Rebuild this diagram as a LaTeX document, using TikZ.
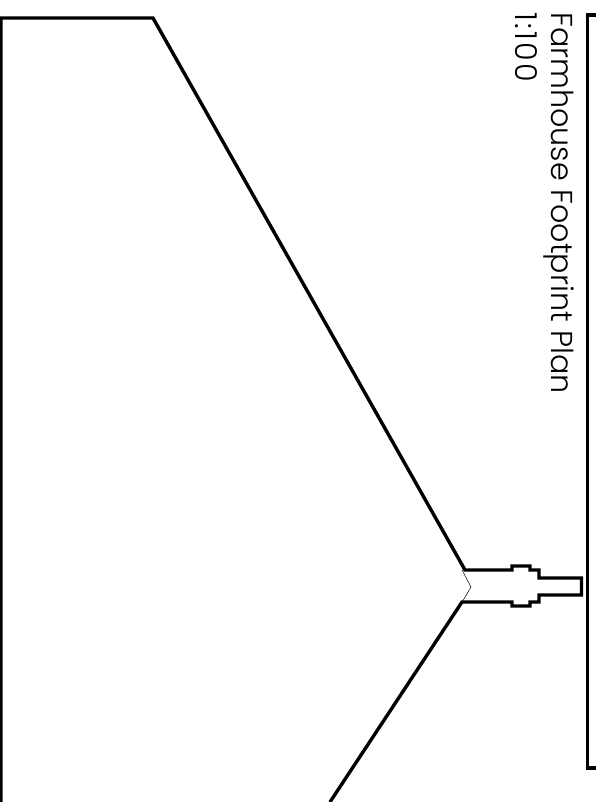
\documentclass[tikz,border=0pt]{standalone}
\usepackage{fontspec}
\setmainfont{Poppins Light}
\tikzset{wall/.style={line width=3.4pt, miter limit=10}}
\tikzset{sill/.style={line width=0.5pt}}
\tikzset{caption/.style={rotate=-90, anchor=base west, inner sep=0pt, font=\fontsize{30.2}{30.2}\selectfont}}

\begin{document}
\begin{tikzpicture}[x=1pt,y=-1pt]

    \useasboundingbox (0,0) rectangle (596,802);

    % footprint outline
    \draw[wall] (1,802) -- (1,18) -- (153,18) -- (465,570) -- (512,570) -- (512,566)
      -- (530,566) -- (530,570) -- (539,570) -- (539,578) -- (581.5,578) -- (581.5,595)
      -- (539,595) -- (539,602) -- (530,602) -- (530,606) -- (512,606) -- (512,602)
      -- (462,602) -- (330,802);
    \draw[sill] (462,570) -- (471,587) -- (461,604);

    % sheet frame
    \draw[wall] (596,15) -- (587.5,15) -- (587.5,768) -- (596,768);

    \node[caption] (title) at (551,12) {Farmhouse Footprint Plan};
    \node[caption] (scale) at (515,12) {\addfontfeature{LetterSpace=8}1:100};

  \end{tikzpicture}
\end{document}
